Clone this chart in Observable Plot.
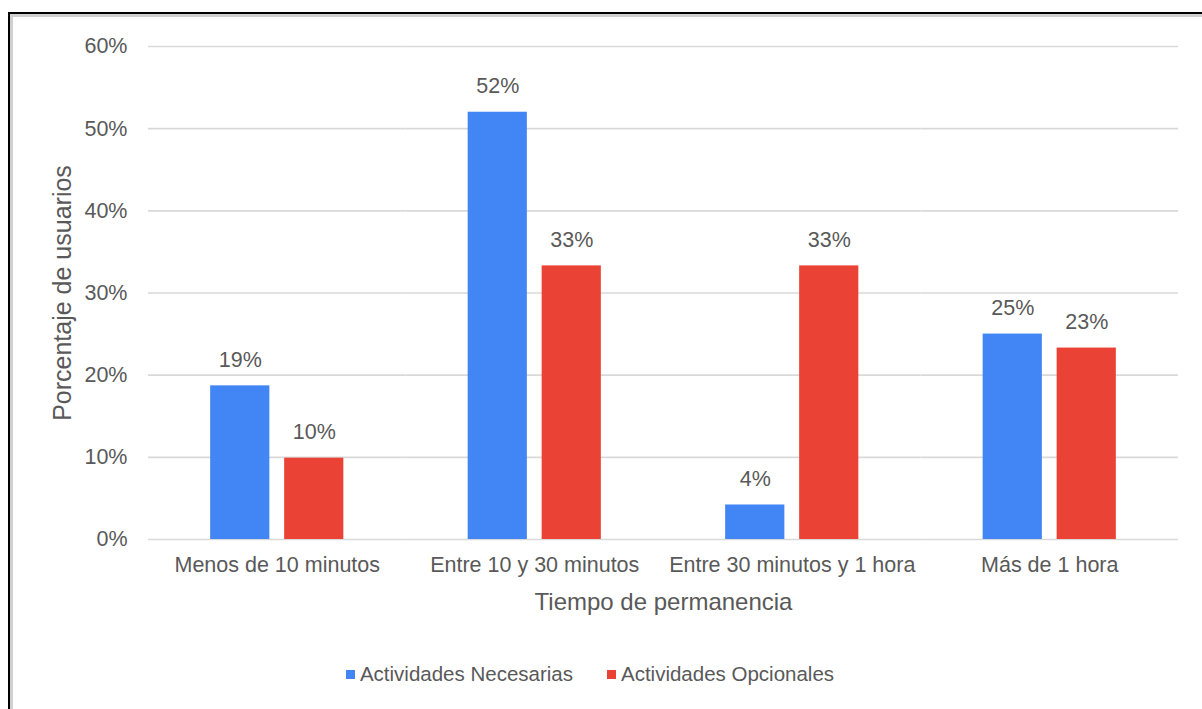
<!DOCTYPE html>
<html>
<head>
<meta charset="utf-8">
<script src="https://cdn.jsdelivr.net/npm/d3@7"></script>
<script src="https://cdn.jsdelivr.net/npm/@observablehq/plot@0.6"></script>
<style>
  html, body { margin: 0; padding: 0; background: #fff; overflow: hidden; }
  body { width: 1202px; height: 709px; position: relative; font-family: "Liberation Sans", Arial, sans-serif; }
  #frame {
    position: absolute; left: 8px; top: 12px; width: 1300px; height: 800px;
    border: 2px solid #000; box-shadow: 1px 1px 0 2px #d0d0d0 inset;
    box-sizing: border-box; pointer-events: none;
  }
  #chart { position: absolute; left: 0; top: 0; }
  #chart svg [aria-label="y-axis label"] text { font-size: 25px; }
  #chart svg [aria-label="fx-axis label"] text { font-size: 24px; }
  #legend {
    position: absolute; left: 0; top: 640px; width: 1180px; height: 69px;
    display: flex; justify-content: center; align-items: flex-start; gap: 34px;
    font-size: 20.5px; color: #595959; padding-top: 22px; box-sizing: border-box;
  }
  .item { display: flex; align-items: center; gap: 5px; }
  .swatch { width: 9px; height: 9px; display: inline-block; }
</style>
</head>
<body>
<div id="frame"></div>
<div id="chart"></div>
<div id="legend"></div>
<script>
// Time spent categories and the two activity series (share of users)
const categories = ["Menos de 10 minutos", "Entre 10 y 30 minutos", "Entre 30 minutos y 1 hora", "Más de 1 hora"];
const seriesNames = ["Actividades Necesarias", "Actividades Opcionales"];
const necesarias = [0.187, 0.52, 0.042, 0.25];
const opcionales = [0.099, 0.333, 0.333, 0.233];
const yTicks = [0, 0.1, 0.2, 0.3, 0.4, 0.5, 0.6];
const colors = ["#4285F4", "#EA4335"];

const rows = categories.flatMap((c, i) => [
  {cat: c, series: seriesNames[0], value: necesarias[i]},
  {cat: c, series: seriesNames[1], value: opcionales[i]}
]);

const pct = d3.format(".0%");
const textColor = "#595959";

const chart = Plot.plot({
  width: 1202,
  height: 640,
  marginLeft: 148,
  marginRight: 24,
  marginTop: 46,
  marginBottom: 101,
  style: {fontFamily: "'Liberation Sans', Arial, sans-serif", color: textColor, background: "transparent", overflow: "visible"},
  fx: {domain: categories, padding: 0, round: false},
  x: {domain: seriesNames, paddingInner: 0.2, paddingOuter: 0.84, round: false, axis: null},
  y: {domain: [0, 0.6], axis: null},
  color: {domain: seriesNames, range: colors},
  marks: [
    Plot.gridY(yTicks, {stroke: "#d9d9d9", strokeOpacity: 1, strokeWidth: 1.6}),
    Plot.axisY({
      ticks: yTicks, tickFormat: pct, tickSize: 0, tickPadding: 21,
      fontSize: 21.5, fill: textColor,
      label: "Porcentaje de usuarios", labelAnchor: "center", labelOffset: 95, labelArrow: "none"
    }),
    Plot.axisFx({
      anchor: "bottom",
      tickSize: 0, tickPadding: 17, fontSize: 21.5, fill: textColor,
      label: "Tiempo de permanencia", labelAnchor: "center", labelOffset: 70, labelArrow: "none"
    }),
    Plot.barY(rows, {fx: "cat", x: "series", y: "value", fill: "series"}),
    Plot.text(rows, {
      fx: "cat", x: "series", y: "value", text: d => pct(d.value),
      dy: -26, fontSize: 21.5, fill: textColor
    })
  ]
});
document.getElementById("chart").appendChild(chart);

// Legend below the plot
const legend = d3.select("#legend");
seriesNames.forEach((name, i) => {
  const item = legend.append("div").attr("class", "item");
  item.append("span").attr("class", "swatch").style("background", colors[i]);
  item.append("span").text(name);
});
</script>
</body>
</html>
